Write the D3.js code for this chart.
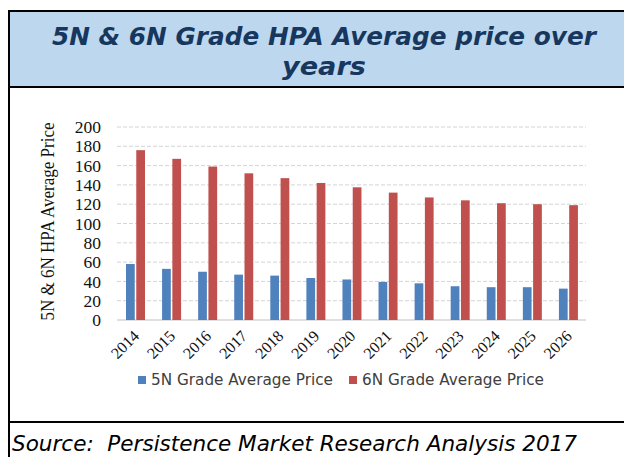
<!DOCTYPE html>
<html>
<head>
<meta charset="utf-8">
<script src="https://cdn.jsdelivr.net/npm/d3@7"></script>
<style>
  html, body { margin: 0; padding: 0; background: #fff; }
  svg { display: block; }
</style>
</head>
<body>
<svg id="chart" width="624" height="457"></svg>
<script>
const years = ["2014","2015","2016","2017","2018","2019","2020","2021","2022","2023","2024","2025","2026"];
const series = ["5N Grade Average Price", "6N Grade Average Price"];
const price5N = [58, 53, 50, 47, 46, 43.5, 42, 39.5, 38, 35, 34, 34, 32.5];
const price6N = [176, 167, 159, 152, 147, 142, 137.5, 132, 127, 124, 121, 120, 119];
const yTicks = [0, 20, 40, 60, 80, 100, 120, 140, 160, 180, 200];
const colors = ["#4f81bd", "#c0504d"];
const titleLines = ["5N & 6N Grade HPA Average price over", "years"];
const yTitle = "5N & 6N HPA Average Price";
const sourceText = "Source:  Persistence Market Research Analysis 2017";

const svg = d3.select("#chart");

// frame + header
svg.append("rect").attr("x", 9).attr("y", 11).attr("width", 640).attr("height", 76)
  .attr("fill", "#bdd7ee");
const frame = svg.append("g").attr("stroke", "#000").attr("stroke-width", 2).attr("fill", "none");
frame.append("line").attr("x1", 9).attr("x2", 624).attr("y1", 11).attr("y2", 11);
frame.append("line").attr("x1", 9).attr("x2", 624).attr("y1", 87).attr("y2", 87);
frame.append("line").attr("x1", 9).attr("x2", 624).attr("y1", 422).attr("y2", 422);
frame.append("line").attr("x1", 9).attr("x2", 9).attr("y1", 10).attr("y2", 457);

const titleLen = [544, 84];
svg.append("g").selectAll("text").data(titleLines).join("text")
  .attr("x", 324).attr("y", (d, i) => 45 + i * 30)
  .attr("text-anchor", "middle")
  .attr("font-family", "'DejaVu Sans', Verdana, sans-serif")
  .attr("font-weight", "bold").attr("font-style", "italic")
  .attr("font-size", 24).attr("fill", "#17375e")
  .attr("textLength", (d, i) => titleLen[i]).attr("lengthAdjust", "spacingAndGlyphs")
  .text(d => d);

svg.append("text").attr("x", 12).attr("y", 451)
  .attr("xml:space", "preserve").style("white-space", "pre")
  .attr("font-family", "'DejaVu Sans', Verdana, sans-serif")
  .attr("font-style", "italic").attr("font-size", 21).attr("fill", "#000")
  .attr("textLength", 565).attr("lengthAdjust", "spacingAndGlyphs")
  .text(sourceText);

// chart
const plotLeft = 117, plotRight = 586, plotTop = 127, plotBottom = 320;
const y = d3.scaleLinear().domain([0, 200]).range([plotBottom, plotTop]);
const x0 = d3.scaleBand().domain(years).range([plotLeft, plotRight]).padding(0);
const x1 = d3.scaleBand().domain(series).range([9, 28]).paddingInner(0.15);

// gridlines
svg.append("g").selectAll("line").data(yTicks).join("line")
  .attr("x1", plotLeft).attr("x2", plotRight)
  .attr("y1", d => y(d)).attr("y2", d => y(d))
  .attr("stroke", d => d === 0 ? "#bfbfbf" : "#d4d4d4")
  .attr("stroke-width", 1)
  .attr("stroke-dasharray", d => d === 0 ? null : "4,2");

// y axis
const yAxis = svg.append("g").attr("transform", `translate(${plotLeft},0)`)
  .call(d3.axisLeft(y).tickValues(yTicks).tickSize(0).tickPadding(16));
yAxis.select(".domain").remove();
yAxis.selectAll("text").attr("font-family", "'Liberation Serif', 'Times New Roman', serif")
  .attr("font-size", 17.5).attr("fill", "#111");

svg.append("text")
  .attr("transform", `translate(54,${(plotTop + plotBottom) / 2 - 2}) rotate(-90)`)
  .attr("text-anchor", "middle")
  .attr("font-family", "'Liberation Serif', 'Times New Roman', serif")
  .attr("font-size", 19.5).attr("fill", "#111")
  .attr("textLength", 198).attr("lengthAdjust", "spacingAndGlyphs")
  .text(yTitle);

// bars
const data = years.map((yr, i) => ({ year: yr, values: [price5N[i], price6N[i]] }));
const groups = svg.append("g").selectAll("g").data(data).join("g")
  .attr("transform", d => `translate(${x0(d.year)},0)`);
groups.selectAll("rect").data(d => d.values.map((v, j) => ({ s: series[j], v, j })))
  .join("rect")
  .attr("x", d => x1(d.s)).attr("width", x1.bandwidth())
  .attr("y", d => y(d.v)).attr("height", d => y(0) - y(d.v))
  .attr("fill", d => colors[d.j]);

// x axis
const xAxis = svg.append("g").attr("transform", `translate(0,${plotBottom})`)
  .call(d3.axisBottom(x0).tickSize(0).tickPadding(0));
xAxis.select(".domain").remove();
xAxis.selectAll("text")
  .attr("font-family", "'Liberation Serif', 'Times New Roman', serif")
  .attr("font-size", 16).attr("fill", "#111")
  .attr("text-anchor", "end")
  .attr("dy", null).attr("y", 0)
  .attr("transform", "translate(5,17) rotate(-45)");

// legend
const legendX = [138, 349];
const legend = svg.append("g").selectAll("g").data(series).join("g")
  .attr("transform", (d, i) => `translate(${legendX[i]},380)`);
legend.append("rect").attr("x", 0).attr("y", -4).attr("width", 8).attr("height", 8)
  .attr("fill", (d, i) => colors[i]);
legend.append("text").attr("x", 13).attr("y", 5)
  .attr("font-family", "'DejaVu Sans', Verdana, sans-serif")
  .attr("font-size", 15).attr("fill", "#404040")
  .attr("textLength", 182).attr("lengthAdjust", "spacingAndGlyphs")
  .text(d => d);
</script>
</body>
</html>
